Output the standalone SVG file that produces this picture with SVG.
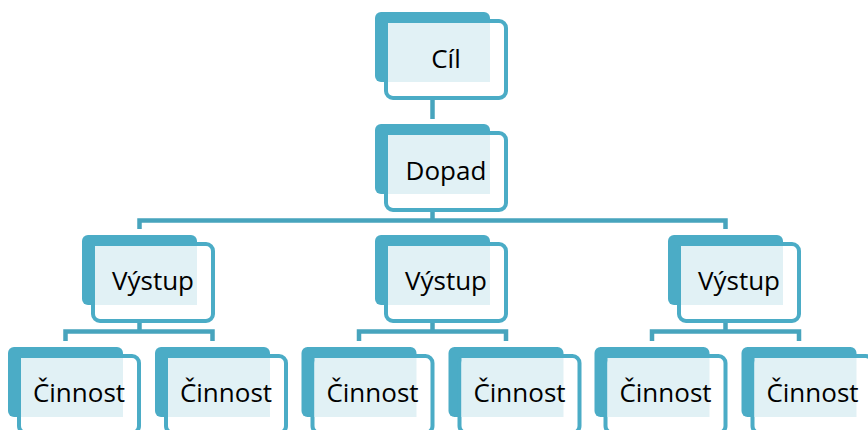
<svg xmlns="http://www.w3.org/2000/svg" width="868" height="430" viewBox="0 0 868 430">
<defs>
<style>
.back{fill:#4bacc6}
.front{fill:#ffffff;stroke:#4bacc6;stroke-width:4}
.hatch{fill:#e1f1f5}
.lbl{font-family:"Open Sans","Liberation Sans",sans-serif;font-size:26px;fill:#000000;text-anchor:middle}
.conn{fill:none;stroke:#47a4bd;stroke-width:4.5}
</style>
</defs>
<rect width="868" height="430" fill="#ffffff"/>
<g id="connectors">
<path class="conn" d="M432.5,100 V119"/>
<path class="conn" d="M432.5,212 V220.5"/>
<path class="conn" d="M139.5,229 V220.5 H725.5 V229"/>
<path class="conn" d="M139.5,323 V331.5"/>
<path class="conn" d="M65.5,341 V331.5 H212.5 V341"/>
<path class="conn" d="M432.5,323 V331.5"/>
<path class="conn" d="M359,341 V331.5 H506 V341"/>
<path class="conn" d="M725.5,323 V331.5"/>
<path class="conn" d="M652,341 V331.5 H799 V341"/>
</g>
<g id="n-cil" transform="translate(375,12)">
<rect class="back" width="115" height="70" rx="6"/>
<rect class="front" x="11" y="9" width="120" height="77" rx="7"/>
<rect class="hatch" x="13" y="11" width="102" height="59"/>
<text class="lbl" x="71" y="56">Cíl</text>
</g>
<g id="n-dopad" transform="translate(375,124)">
<rect class="back" width="115" height="70" rx="6"/>
<rect class="front" x="11" y="9" width="120" height="77" rx="7"/>
<rect class="hatch" x="13" y="11" width="102" height="59"/>
<text class="lbl" x="71" y="56">Dopad</text>
</g>
<g id="n-vystup1" transform="translate(82,235)">
<rect class="back" width="115" height="70" rx="6"/>
<rect class="front" x="11" y="9" width="120" height="77" rx="7"/>
<rect class="hatch" x="13" y="11" width="102" height="59"/>
<text class="lbl" x="71" y="55">Výstup</text>
</g>
<g id="n-vystup2" transform="translate(375,235)">
<rect class="back" width="115" height="70" rx="6"/>
<rect class="front" x="11" y="9" width="120" height="77" rx="7"/>
<rect class="hatch" x="13" y="11" width="102" height="59"/>
<text class="lbl" x="71" y="55">Výstup</text>
</g>
<g id="n-vystup3" transform="translate(668,235)">
<rect class="back" width="115" height="70" rx="6"/>
<rect class="front" x="11" y="9" width="120" height="77" rx="7"/>
<rect class="hatch" x="13" y="11" width="102" height="59"/>
<text class="lbl" x="71" y="55">Výstup</text>
</g>
<g id="n-cinnost1" transform="translate(8,347)">
<rect class="back" width="115" height="70" rx="6"/>
<rect class="front" x="11" y="9" width="120" height="77" rx="7"/>
<rect class="hatch" x="13" y="11" width="102" height="59"/>
<text class="lbl" x="71" y="55">Činnost</text>
</g>
<g id="n-cinnost2" transform="translate(155,347)">
<rect class="back" width="115" height="70" rx="6"/>
<rect class="front" x="11" y="9" width="120" height="77" rx="7"/>
<rect class="hatch" x="13" y="11" width="102" height="59"/>
<text class="lbl" x="71" y="55">Činnost</text>
</g>
<g id="n-cinnost3" transform="translate(301.5,347)">
<rect class="back" width="115" height="70" rx="6"/>
<rect class="front" x="11" y="9" width="120" height="77" rx="7"/>
<rect class="hatch" x="13" y="11" width="102" height="59"/>
<text class="lbl" x="71" y="55">Činnost</text>
</g>
<g id="n-cinnost4" transform="translate(448.5,347)">
<rect class="back" width="115" height="70" rx="6"/>
<rect class="front" x="11" y="9" width="120" height="77" rx="7"/>
<rect class="hatch" x="13" y="11" width="102" height="59"/>
<text class="lbl" x="71" y="55">Činnost</text>
</g>
<g id="n-cinnost5" transform="translate(594.5,347)">
<rect class="back" width="115" height="70" rx="6"/>
<rect class="front" x="11" y="9" width="120" height="77" rx="7"/>
<rect class="hatch" x="13" y="11" width="102" height="59"/>
<text class="lbl" x="71" y="55">Činnost</text>
</g>
<g id="n-cinnost6" transform="translate(741.5,347)">
<rect class="back" width="115" height="70" rx="6"/>
<rect class="front" x="11" y="9" width="120" height="77" rx="7"/>
<rect class="hatch" x="13" y="11" width="102" height="59"/>
<text class="lbl" x="71" y="55">Činnost</text>
</g>
</svg>
